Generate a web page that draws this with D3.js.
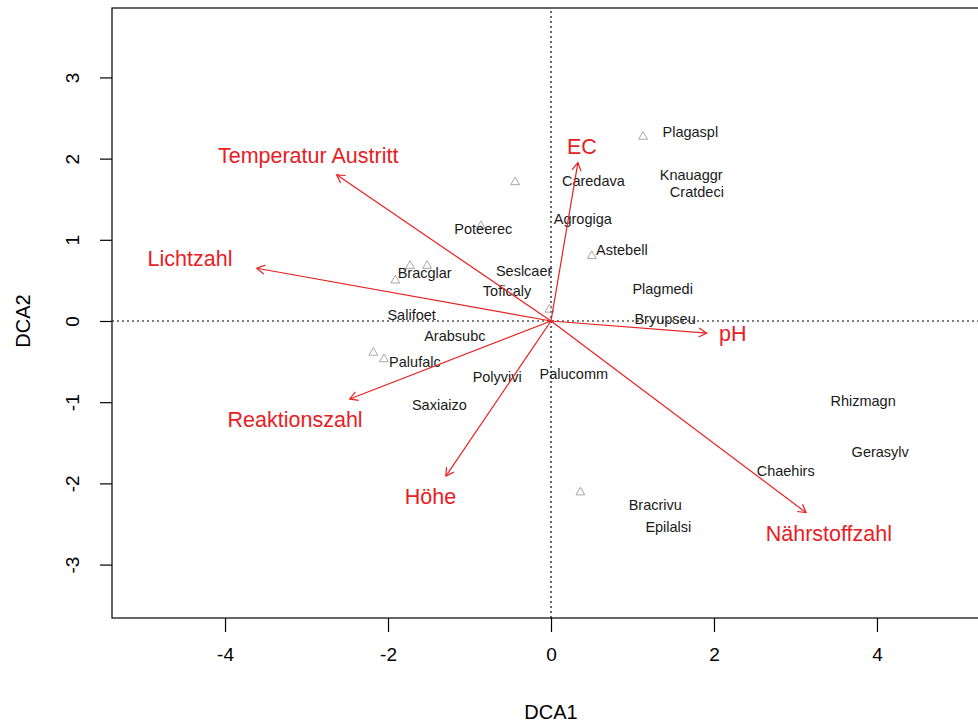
<!DOCTYPE html>
<html><head><meta charset="utf-8">
<script src="https://cdn.jsdelivr.net/npm/d3@7"></script>
<style>body{margin:0;background:#fff}svg{display:block}</style></head>
<body>
<svg id="c" width="978" height="724"></svg>
<script>
const xTicks = [-4, -2, 0, 2, 4];
const yTicks = [-3, -2, -1, 0, 1, 2, 3];

const speciesNames = ["Plagaspl","Caredava","Knauaggr","Cratdeci","Agrogiga","Poteerec","Astebell","Seslcaer","Bracglar","Toficaly","Plagmedi","Salifoet","Bryupseu","Arabsubc","Palufalc","Polyvivi","Palucomm","Saxiaizo","Rhizmagn","Gerasylv","Chaehirs","Bracrivu","Epilalsi"];
const speciesX = [1.71, 0.52, 1.72, 1.79, 0.39, -0.83, 0.87, -0.33, -1.55, -0.54, 1.37, -1.71, 1.40, -1.18, -1.67, -0.66, 0.28, -1.37, 3.83, 4.04, 2.88, 1.28, 1.44];
const speciesY = [2.33, 1.72, 1.80, 1.59, 1.26, 1.13, 0.87, 0.62, 0.59, 0.37, 0.39, 0.07, 0.02, -0.18, -0.50, -0.69, -0.65, -1.03, -0.99, -1.61, -1.85, -2.27, -2.54];

const siteX = [1.13, -0.44, -0.86, 0.50, -1.73, -1.52, -1.91, -0.02, -2.18, -2.05, 0.36];
const siteY = [2.27, 1.71, 1.17, 0.80, 0.68, 0.68, 0.50, 0.14, -0.39, -0.47, -2.11];

const envNames = ["Temperatur Austritt","Lichtzahl","EC","pH","Reaktionszahl","Höhe","Nährstoffzahl"];
const envX = [-2.63, -3.61, 0.33, 1.91, -2.47, -1.29, 3.13];
const envY = [1.80, 0.65, 1.95, -0.15, -0.96, -1.91, -2.36];
const envLabelX = [-2.98, -4.43, 0.38, 2.23, -3.14, -1.48, 3.41];
const envLabelY = [2.03, 0.76, 2.14, -0.16, -1.22, -2.17, -2.62];

const svg = d3.select("#c");
const x = d3.scaleLinear().domain([-5.387, 5.387]).range([112, 990]);
const y = d3.scaleLinear().domain([-3.658, 3.855]).range([618, 8]);
const font = "'Liberation Sans', Arial, sans-serif";
const red = "#e8201f";

// dotted zero lines
svg.append("line").attr("x1", x(0)).attr("x2", x(0)).attr("y1", y.range()[0]).attr("y2", y.range()[1])
  .attr("stroke", "#000").attr("stroke-width", 1.2).attr("stroke-dasharray", "2,3");
svg.append("line").attr("x1", x.range()[0]).attr("x2", x.range()[1]).attr("y1", y(0)).attr("y2", y(0))
  .attr("stroke", "#000").attr("stroke-width", 1.2).attr("stroke-dasharray", "2,3");

// sites (triangles)
const tri = d3.symbol().type(d3.symbolTriangle).size(34);
svg.append("g").selectAll("path").data(siteX.map((v, i) => [v, siteY[i]])).join("path")
  .attr("d", tri).attr("transform", d => `translate(${x(d[0])},${y(d[1])})`)
  .attr("fill", "none").attr("stroke", "#a8a8a8").attr("stroke-width", 1);

// species labels
svg.append("g").selectAll("text").data(speciesNames).join("text")
  .attr("x", (d, i) => x(speciesX[i])).attr("y", (d, i) => y(speciesY[i]))
  .attr("text-anchor", "middle").attr("dominant-baseline", "central")
  .attr("font-family", font).attr("font-size", 14.5).attr("fill", "#1a1a1a")
  .text(d => d);

// env arrows
const ag = svg.append("g").attr("stroke", red).attr("stroke-width", 1.2).attr("fill", "none");
envNames.forEach((n, i) => {
  const x0 = x(0), y0 = y(0), x1 = x(envX[i]), y1 = y(envY[i]);
  ag.append("line").attr("x1", x0).attr("y1", y0).attr("x2", x1).attr("y2", y1);
  const a = Math.atan2(y1 - y0, x1 - x0), L = 9, s = Math.PI / 6;
  ag.append("path").attr("d",
    `M${x1 - L * Math.cos(a - s)},${y1 - L * Math.sin(a - s)}L${x1},${y1}L${x1 - L * Math.cos(a + s)},${y1 - L * Math.sin(a + s)}`);
});
svg.append("g").selectAll("text").data(envNames).join("text")
  .attr("x", (d, i) => x(envLabelX[i])).attr("y", (d, i) => y(envLabelY[i]))
  .attr("text-anchor", "middle").attr("dominant-baseline", "central")
  .attr("font-family", font).attr("font-size", 21.5).attr("fill", red)
  .text(d => d);

// frame
svg.append("rect").attr("x", x.range()[0]).attr("y", y.range()[1])
  .attr("width", x.range()[1] - x.range()[0]).attr("height", y.range()[0] - y.range()[1])
  .attr("fill", "none").attr("stroke", "#000").attr("stroke-width", 1.2);

// axes
const fmt = d => String(d);
const xa = svg.append("g").attr("transform", `translate(0,${y.range()[0]})`)
  .call(d3.axisBottom(x).tickValues(xTicks).tickSize(14).tickPadding(16).tickFormat(fmt));
xa.select(".domain").remove();
xa.selectAll("line").attr("stroke", "#000").attr("stroke-width", 1.2);
xa.selectAll("text").attr("font-family", font).attr("font-size", 19).attr("fill", "#000");

const ya = svg.append("g").attr("transform", `translate(${x.range()[0]},0)`)
  .call(d3.axisLeft(y).tickValues(yTicks).tickSize(12).tickFormat(fmt));
ya.select(".domain").remove();
ya.selectAll("line").attr("stroke", "#000").attr("stroke-width", 1.2);
ya.selectAll("text").attr("font-family", font).attr("font-size", 19).attr("fill", "#000")
  .attr("x", null).attr("dy", null).attr("text-anchor", "middle").attr("dominant-baseline", "central")
  .attr("transform", "translate(-40,0) rotate(-90)");

svg.append("text").attr("x", x(0)).attr("y", 712).attr("text-anchor", "middle").attr("dominant-baseline", "central")
  .attr("font-family", font).attr("font-size", 20).text("DCA1");
svg.append("text").attr("transform", `translate(23,${y(0)}) rotate(-90)`).attr("text-anchor", "middle").attr("dominant-baseline", "central")
  .attr("font-family", font).attr("font-size", 20).text("DCA2");
</script>
</body></html>
